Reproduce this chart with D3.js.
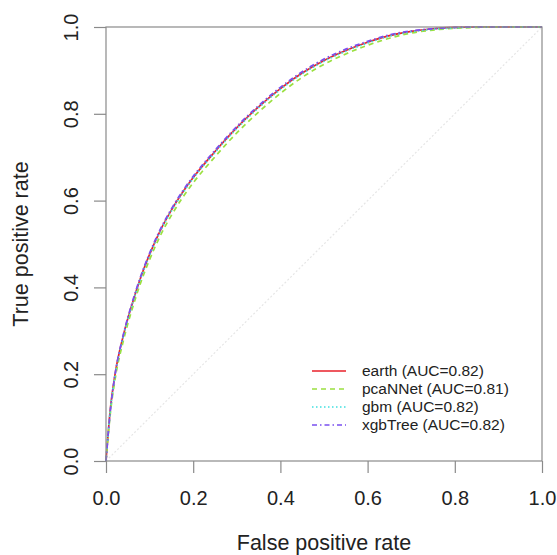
<!DOCTYPE html>
<html><head><meta charset="utf-8">
<script src="https://cdn.jsdelivr.net/npm/d3@7"></script>
<style>body{margin:0;background:#fff}svg{display:block}</style>
</head><body>
<script>
// Data
const fpr        = [0, 0.01, 0.02, 0.04, 0.06, 0.08, 0.1, 0.125, 0.15, 0.175, 0.2, 0.25, 0.3, 0.35, 0.4, 0.45, 0.5, 0.55, 0.6, 0.65, 0.7, 0.75, 0.8, 0.85, 0.9, 0.95, 1];
const earthTpr   = [0, 0.12, 0.195, 0.29, 0.362, 0.424, 0.476, 0.532, 0.578, 0.618, 0.653, 0.713, 0.768, 0.816, 0.858, 0.894, 0.923, 0.946, 0.965, 0.98, 0.99, 0.996, 0.999, 1, 1, 1, 1];
const pcaNNetTpr = [0, 0.11, 0.183, 0.278, 0.35, 0.412, 0.464, 0.52, 0.566, 0.606, 0.641, 0.701, 0.756, 0.804, 0.847, 0.884, 0.914, 0.938, 0.958, 0.974, 0.986, 0.993, 0.997, 0.999, 1, 1, 1];
const gbmTpr     = [0, 0.118, 0.193, 0.288, 0.36, 0.422, 0.474, 0.53, 0.576, 0.616, 0.651, 0.711, 0.766, 0.814, 0.856, 0.892, 0.921, 0.944, 0.963, 0.979, 0.989, 0.995, 0.998, 1, 1, 1, 1];
const xgbTreeTpr = [0, 0.116, 0.194, 0.292, 0.365, 0.427, 0.479, 0.535, 0.581, 0.621, 0.656, 0.716, 0.771, 0.819, 0.861, 0.897, 0.926, 0.949, 0.967, 0.982, 0.991, 0.996, 0.999, 1, 1, 1, 1];
const seriesNames = ["earth", "pcaNNet", "gbm", "xgbTree"];
const aucValues = ["0.82", "0.81", "0.82", "0.82"];
const tickValues = [0, 0.2, 0.4, 0.6, 0.8, 1.0];
const xTitle = "False positive rate";
const yTitle = "True positive rate";

const tprs = [earthTpr, pcaNNetTpr, gbmTpr, xgbTreeTpr];
const colors = ["#e8202a", "#9be040", "#40e0e0", "#7a50f0"];
const dashes = [null, "5,4", "1.5,2.5", "5,3,1.5,3"];

const W = 557, H = 555;
const L = 106, R = 542, T = 27, B = 461;
const svg = d3.select("body").append("svg").attr("width", W).attr("height", H);
const x = d3.scaleLinear().domain([0, 1]).range([L, R]);
const y = d3.scaleLinear().domain([0, 1]).range([B, T]);
const font = "'Liberation Sans', Arial, Helvetica, sans-serif";

// diagonal
svg.append("line").attr("x1", x(0)).attr("y1", y(0)).attr("x2", x(1)).attr("y2", y(1))
  .attr("stroke", "#e6e6e6").attr("stroke-width", 1.2).attr("stroke-dasharray", "2,2");

// curves
const line = d3.line().x((d, i) => x(fpr[i])).y(d => y(d)).curve(d3.curveMonotoneX);
tprs.forEach((t, k) => {
  svg.append("path").attr("d", line(t)).attr("fill", "none")
    .attr("stroke", colors[k]).attr("stroke-width", 1.7)
    .attr("stroke-dasharray", dashes[k]);
});

// box
svg.append("rect").attr("x", L).attr("y", T).attr("width", R - L).attr("height", B - T)
  .attr("fill", "none").attr("stroke", "#8a8a8a").attr("stroke-width", 1.2);

// axes
const xAxis = svg.append("g").attr("transform", `translate(0,${B})`)
  .call(d3.axisBottom(x).tickValues(tickValues).tickFormat(d3.format(".1f")).tickSize(12));
const yAxis = svg.append("g").attr("transform", `translate(${L},0)`)
  .call(d3.axisLeft(y).tickValues(tickValues).tickFormat(d3.format(".1f")).tickSize(12));
[xAxis, yAxis].forEach(g => {
  g.select(".domain").remove();
  g.selectAll(".tick line").attr("stroke", "#8a8a8a").attr("stroke-width", 1.2);
  g.selectAll(".tick text").attr("fill", "#222").style("font-family", font).style("font-size", "20px");
});
xAxis.selectAll(".tick text").attr("dy", null).attr("y", 44);
yAxis.selectAll(".tick text").attr("x", null).attr("dy", null)
  .attr("text-anchor", "middle").attr("transform", "translate(-28,0) rotate(-90)").attr("y", 0);

// titles
svg.append("text").attr("x", (L + R) / 2).attr("y", 550).attr("text-anchor", "middle")
  .style("font-family", font).style("font-size", "21.5px").attr("fill", "#222").text(xTitle);
svg.append("text").attr("transform", `translate(28,${(T + B) / 2}) rotate(-90)`).attr("text-anchor", "middle")
  .style("font-family", font).style("font-size", "21.5px").attr("fill", "#222").text(yTitle);

// legend
const rowsY = [371, 389, 407, 425];
seriesNames.forEach((n, k) => {
  const yy = rowsY[k];
  svg.append("line").attr("x1", 312).attr("x2", 346).attr("y1", yy).attr("y2", yy)
    .attr("stroke", colors[k]).attr("stroke-width", 1.7).attr("stroke-dasharray", dashes[k]);
  svg.append("text").attr("x", 362).attr("y", yy + 5.3)
    .style("font-family", font).style("font-size", "15.5px").attr("fill", "#222")
    .text(`${n} (AUC=${aucValues[k]})`);
});
</script>
</body></html>
